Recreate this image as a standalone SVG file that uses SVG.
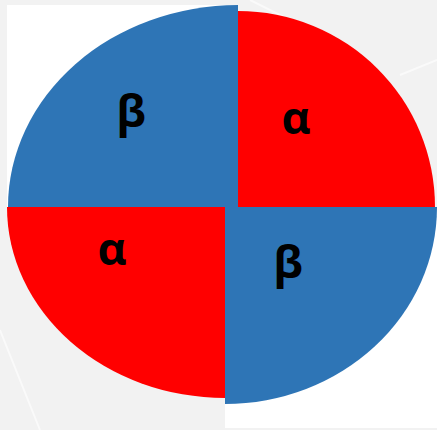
<svg xmlns="http://www.w3.org/2000/svg" width="437" height="430" viewBox="0 0 437 430">
<style>
.blue{fill:#2e75b6}
.red{fill:#ff0000}
.lbl{font-family:"Open Sans","DejaVu Sans",sans-serif;font-weight:bold;font-size:45px;fill:#000;text-anchor:middle}
.sheen{fill:none;stroke:#ffffff;stroke-width:2;opacity:0.6}
</style>
<rect width="437" height="430" fill="#f2f2f2"/>
<path class="sheen" d="M0,330 L40,430"/>
<path class="sheen" d="M400,75 L437,60"/>
<path class="sheen" d="M250,0 L290,20"/>
<rect x="7" y="5" width="231" height="202" fill="#ffffff"/>
<rect x="225" y="207" width="212" height="221" fill="#ffffff"/>
<g id="q-top-left">
<path class="blue" d="M238,207 L8,207 A230,202 0 0 1 238,5 Z"/>
<text class="lbl" x="131" y="127">β</text>
</g>
<g id="q-top-right">
<path class="red" d="M238,207 L238,11 A197,196 0 0 1 435,207 Z"/>
<text class="lbl" x="296" y="134">α</text>
</g>
<g id="q-bottom-left">
<path class="red" d="M225,207 L225,398 A218,191 0 0 1 7,207 Z"/>
<text class="lbl" x="112" y="265">α</text>
</g>
<g id="q-bottom-right">
<path class="blue" d="M225,207 L437,207 A212,197 0 0 1 225,404 Z"/>
<text class="lbl" x="288" y="278">β</text>
</g>
</svg>
